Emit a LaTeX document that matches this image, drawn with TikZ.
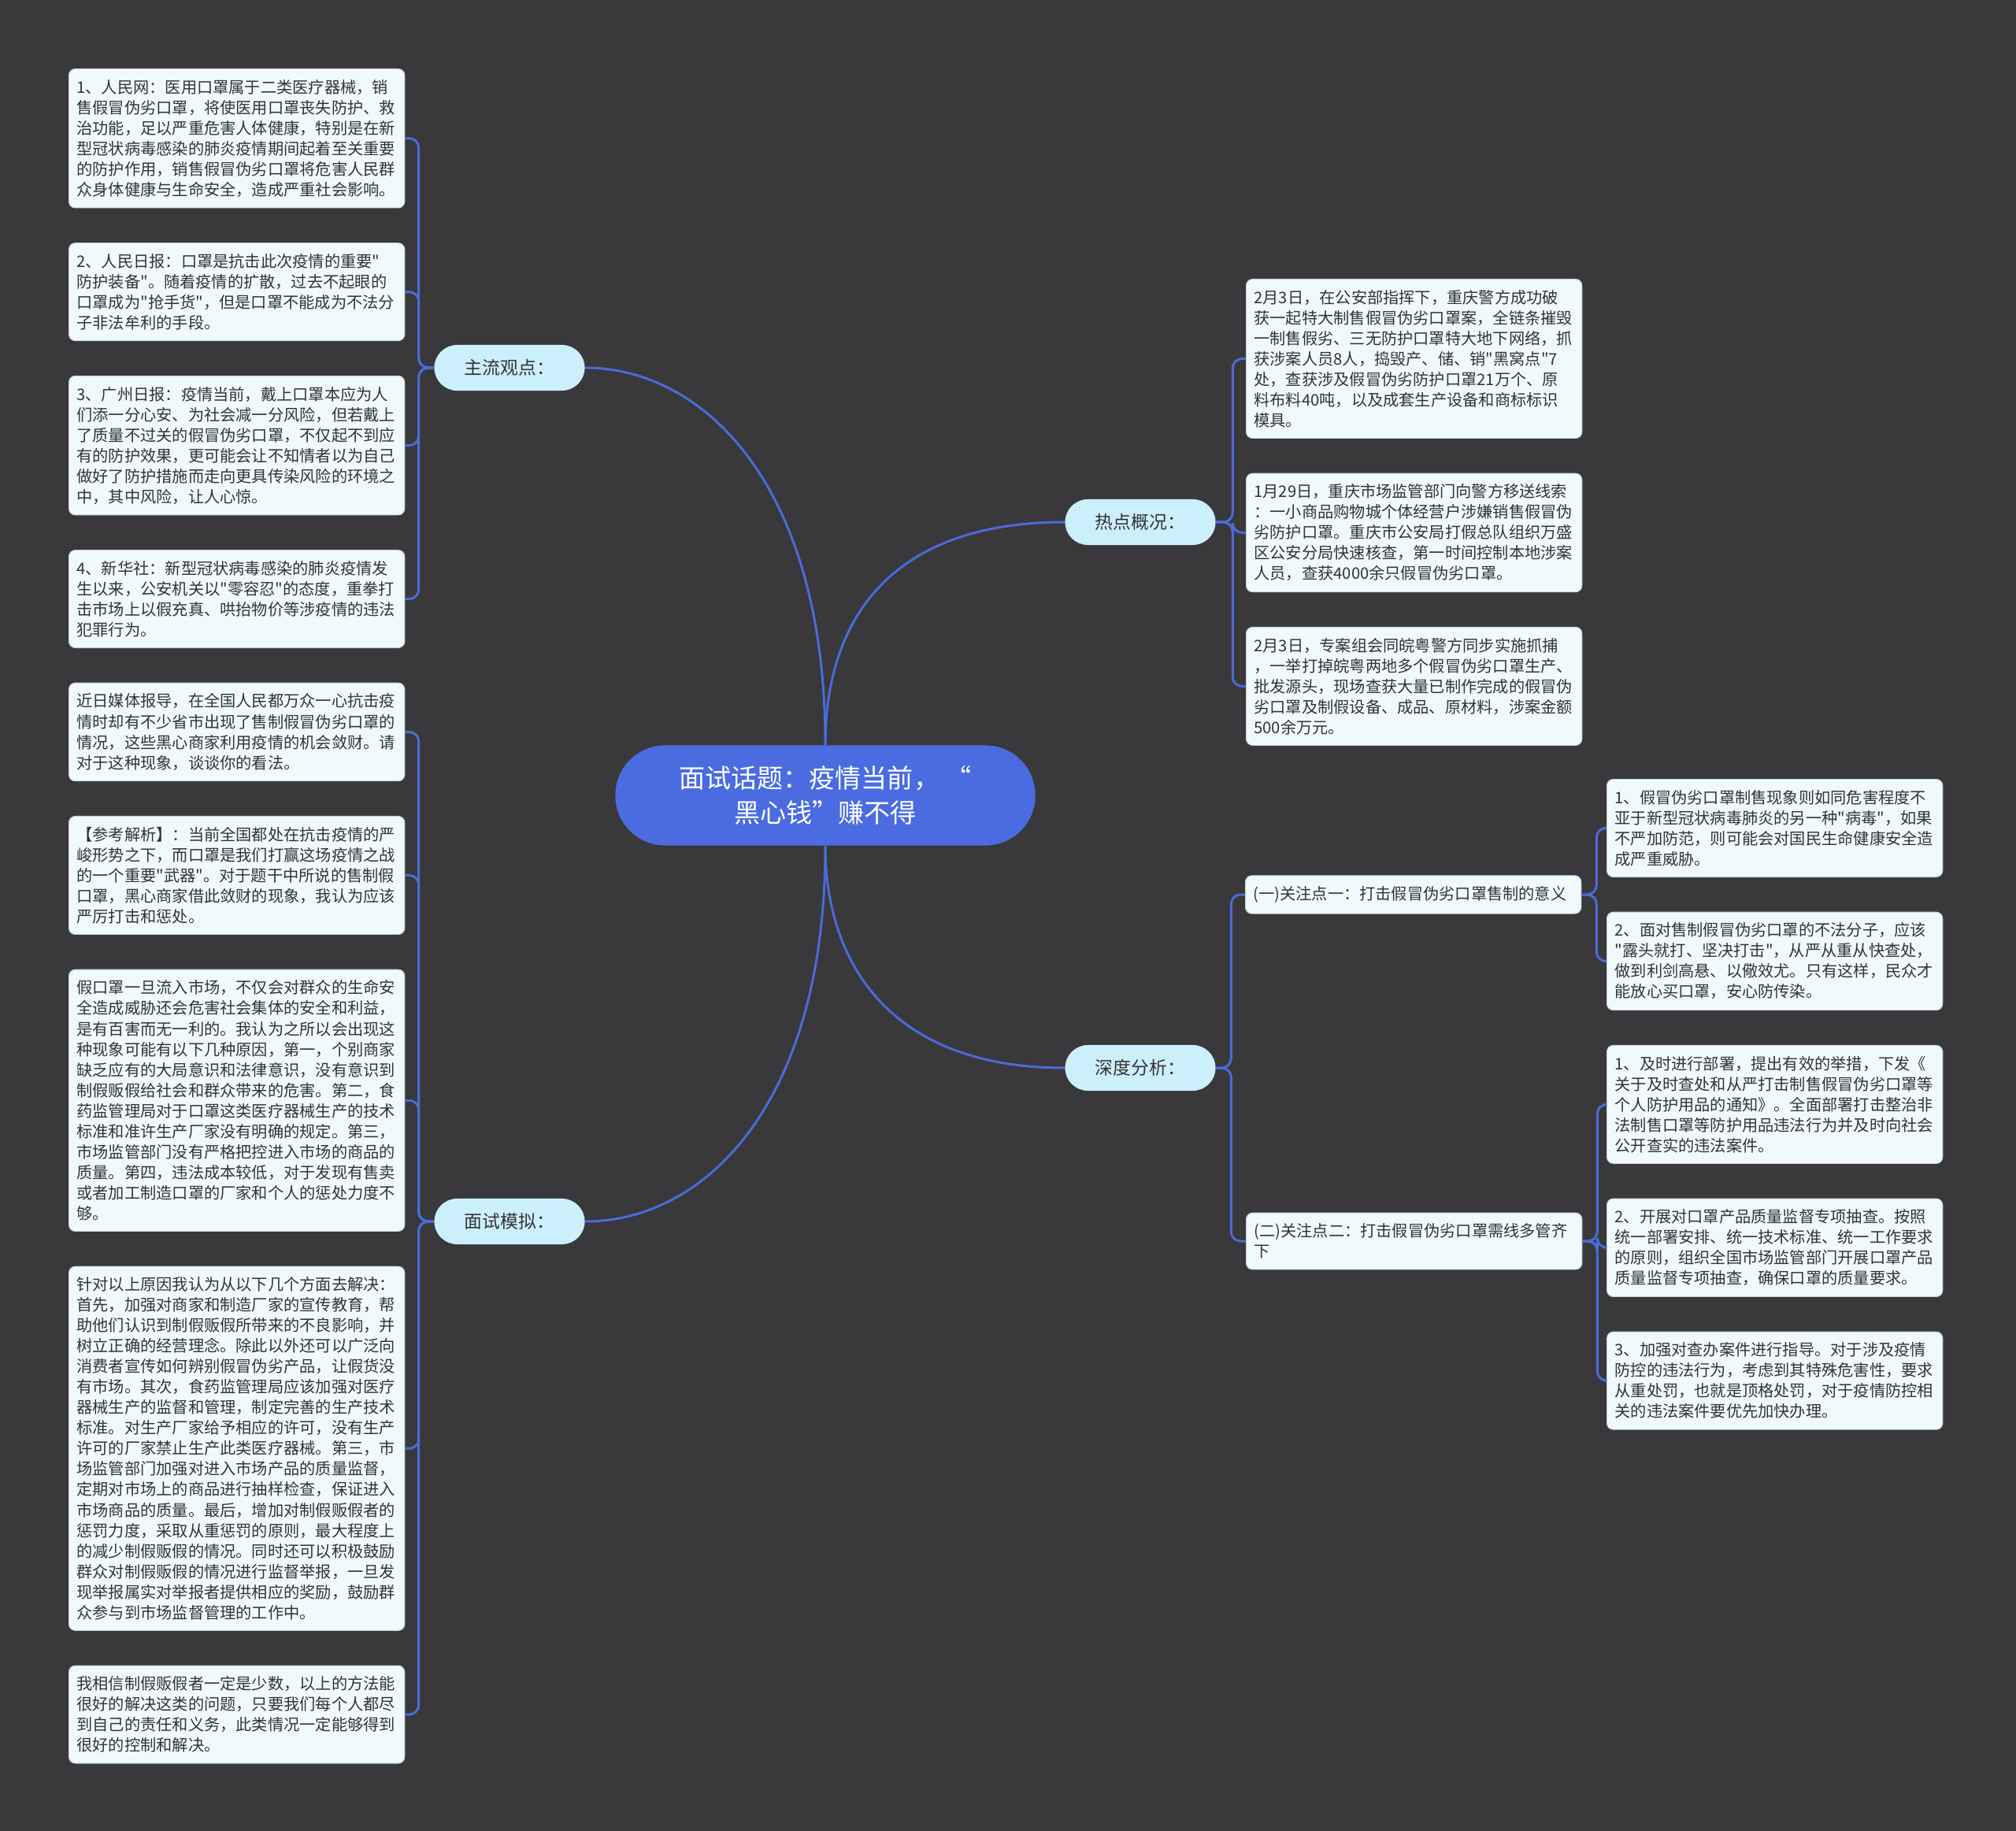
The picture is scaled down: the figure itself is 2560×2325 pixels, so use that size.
\documentclass[tikz,border=0pt]{standalone}
\usepackage{fontspec}
\setmainfont{Noto Sans CJK SC}[Ligatures=TeXOff]
\usetikzlibrary{positioning}

\definecolor{bgcol}{HTML}{39383A}
\definecolor{linkcol}{HTML}{4B6BD8}
\definecolor{topiccol}{HTML}{4A6CE0}
\definecolor{branchcol}{HTML}{CCEFFC}
\definecolor{leafcol}{HTML}{F0FAFC}
\definecolor{leafline}{HTML}{C9D6DA}
\definecolor{textcol}{HTML}{333333}

\tikzset{
  topic/.style={fill=topiccol, text=white, rounded corners=0.63cm,
    minimum width=5.33cm, minimum height=1.27cm, align=center,
    font=\fontsize{9.4pt}{12.5pt}\selectfont},
  branch/.style={fill=branchcol, text=textcol, rounded corners=0.29cm,
    minimum width=1.91cm, minimum height=0.58cm,
    font=\fontsize{6.5pt}{8pt}\selectfont},
  leaf/.style={fill=leafcol, draw=leafline, line width=0.3pt,
    rounded corners=0.08cm, text=textcol, text width=4.06cm,
    inner xsep=0.1cm, inner ysep=0.135cm, align=left,
    font=\fontsize{5.75pt}{7.4pt}\selectfont},
  link/.style={draw=linkcol, line width=0.03cm},
  elbow/.style={link, rounded corners=0.12cm},
}

\begin{document}
\begin{tikzpicture}[x=0.01cm, y=-0.01cm]
        \fill[bgcol] (0,0) rectangle (2560,2325);

        \node[topic]  (topic) at (1048,1010) {面试话题：疫情当前， “\\黑心钱”赚不得};
        \node[branch] (zl) at (647,467)   {主流观点：};
        \node[branch] (ms) at (647,1551)  {面试模拟：};
        \node[branch] (rd) at (1448,663)  {热点概况：};
        \node[branch] (sd) at (1448,1356) {深度分析：};

        % left column
        \node[leaf, anchor=north west] (l1) at (87,87) {1、人民网：医用口罩属于二类医疗器械，销\\售假冒伪劣口罩，将使医用口罩丧失防护、救\\治功能，足以严重危害人体健康，特别是在新\\型冠状病毒感染的肺炎疫情期间起着至关重要\\的防护作用，销售假冒伪劣口罩将危害人民群\\众身体健康与生命安全，造成严重社会影响。};
        \node[leaf, below=0.437cm of l1] (l2) {2、人民日报：口罩是抗击此次疫情的重要"\\防护装备"。随着疫情的扩散，过去不起眼的\\口罩成为"抢手货"，但是口罩不能成为不法分\\子非法牟利的手段。};
        \node[leaf, below=0.437cm of l2] (l3) {3、广州日报：疫情当前，戴上口罩本应为人\\们添一分心安、为社会减一分风险，但若戴上\\了质量不过关的假冒伪劣口罩，不仅起不到应\\有的防护效果，更可能会让不知情者以为自己\\做好了防护措施而走向更具传染风险的环境之\\中，其中风险，让人心惊。};
        \node[leaf, below=0.437cm of l3] (l4) {4、新华社：新型冠状病毒感染的肺炎疫情发\\生以来，公安机关以"零容忍"的态度，重拳打\\击市场上以假充真、哄抬物价等涉疫情的违法\\犯罪行为。};
        \node[leaf, below=0.437cm of l4] (l5) {近日媒体报导，在全国人民都万众一心抗击疫\\情时却有不少省市出现了售制假冒伪劣口罩的\\情况，这些黑心商家利用疫情的机会敛财。请\\对于这种现象，谈谈你的看法。};
        \node[leaf, below=0.437cm of l5] (l6) {【参考解析】：当前全国都处在抗击疫情的严\\峻形势之下，而口罩是我们打赢这场疫情之战\\的一个重要"武器"。对于题干中所说的售制假\\口罩，黑心商家借此敛财的现象，我认为应该\\严厉打击和惩处。};
        \node[leaf, below=0.437cm of l6] (l7) {假口罩一旦流入市场，不仅会对群众的生命安\\全造成威胁还会危害社会集体的安全和利益，\\是有百害而无一利的。我认为之所以会出现这\\种现象可能有以下几种原因，第一，个别商家\\缺乏应有的大局意识和法律意识，没有意识到\\制假贩假给社会和群众带来的危害。第二，食\\药监管理局对于口罩这类医疗器械生产的技术\\标准和准许生产厂家没有明确的规定。第三，\\市场监管部门没有严格把控进入市场的商品的\\质量。第四，违法成本较低，对于发现有售卖\\或者加工制造口罩的厂家和个人的惩处力度不\\够。};
        \node[leaf, below=0.437cm of l7] (l8) {针对以上原因我认为从以下几个方面去解决：\\首先，加强对商家和制造厂家的宣传教育，帮\\助他们认识到制假贩假所带来的不良影响，并\\树立正确的经营理念。除此以外还可以广泛向\\消费者宣传如何辨别假冒伪劣产品，让假货没\\有市场。其次，食药监管理局应该加强对医疗\\器械生产的监督和管理，制定完善的生产技术\\标准。对生产厂家给予相应的许可，没有生产\\许可的厂家禁止生产此类医疗器械。第三，市\\场监管部门加强对进入市场产品的质量监督，\\定期对市场上的商品进行抽样检查，保证进入\\市场商品的质量。最后，增加对制假贩假者的\\惩罚力度，采取从重惩罚的原则，最大程度上\\的减少制假贩假的情况。同时还可以积极鼓励\\群众对制假贩假的情况进行监督举报，一旦发\\现举报属实对举报者提供相应的奖励，鼓励群\\众参与到市场监督管理的工作中。};
        \node[leaf, below=0.437cm of l8] (l9) {我相信制假贩假者一定是少数，以上的方法能\\很好的解决这类的问题，只要我们每个人都尽\\到自己的责任和义务，此类情况一定能够得到\\很好的控制和解决。};

        % right column
        \node[leaf, anchor=north west] (h1) at (1582,354) {2月3日，在公安部指挥下，重庆警方成功破\\获一起特大制售假冒伪劣口罩案，全链条摧毁\\一制售假劣、三无防护口罩特大地下网络，抓\\获涉案人员8人，捣毁产、储、销"黑窝点"7\\处，查获涉及假冒伪劣防护口罩21万个、原\\料布料40吨，以及成套生产设备和商标标识\\模具。};
        \node[leaf, below=0.437cm of h1] (h2) {1月29日，重庆市场监管部门向警方移送线索\\：一小商品购物城个体经营户涉嫌销售假冒伪\\劣防护口罩。重庆市公安局打假总队组织万盛\\区公安分局快速核查，第一时间控制本地涉案\\人员，查获4000余只假冒伪劣口罩。};
        \node[leaf, below=0.437cm of h2] (h3) {2月3日，专案组会同皖粤警方同步实施抓捕\\，一举打掉皖粤两地多个假冒伪劣口罩生产、\\批发源头，现场查获大量已制作完成的假冒伪\\劣口罩及制假设备、成品、原材料，涉案金额\\500余万元。};

        \node[leaf, anchor=west] (d1) at (1581,1136) {(一)关注点一：打击假冒伪劣口罩售制的意义};
        \node[leaf, anchor=west] (d2) at (1582,1576) {(二)关注点二：打击假冒伪劣口罩需线多管齐\\下};

        \node[leaf, anchor=north west] (d1a) at (2040,989) {1、假冒伪劣口罩制售现象则如同危害程度不\\亚于新型冠状病毒肺炎的另一种"病毒"，如果\\不严加防范，则可能会对国民生命健康安全造\\成严重威胁。};
        \node[leaf, below=0.437cm of d1a] (d1b) {2、面对售制假冒伪劣口罩的不法分子，应该\\"露头就打、坚决打击"，从严从重从快查处，\\做到利剑高悬、以儆效尤。只有这样，民众才\\能放心买口罩，安心防传染。};
        \node[leaf, below=0.437cm of d1b] (d2a) {1、及时进行部署，提出有效的举措，下发《\\关于及时查处和从严打击制售假冒伪劣口罩等\\个人防护用品的通知》。全面部署打击整治非\\法制售口罩等防护用品违法行为并及时向社会\\公开查实的违法案件。};
        \node[leaf, below=0.437cm of d2a] (d2b) {2、开展对口罩产品质量监督专项抽查。按照\\统一部署安排、统一技术标准、统一工作要求\\的原则，组织全国市场监管部门开展口罩产品\\质量监督专项抽查，确保口罩的质量要求。};
        \node[leaf, below=0.437cm of d2b] (d2c) {3、加强对查办案件进行指导。对于涉及疫情\\防控的违法行为，考虑到其特殊危害性，要求\\从重处罚，也就是顶格处罚，对于疫情防控相\\关的违法案件要优先加快办理。};

        \draw[link] (topic.north) .. controls +(0,-330) and +(150,0) .. (zl.east);
        \draw[link] (topic.south) .. controls +(0,330) and +(150,0) .. (ms.east);
        \draw[link] (topic.north) .. controls +(0,-160) and +(-220,0) .. (rd.west);
        \draw[link] (topic.south) .. controls +(0,150) and +(-220,0) .. (sd.west);

        \foreach \c in {l1,l2,l3,l4}
          \draw[elbow] (zl.west) -- ++(-19,0) |- (\c.east);
        \foreach \c in {l5,l6,l7,l8,l9}
          \draw[elbow] (ms.west) -- ++(-19,0) |- (\c.east);
        \foreach \c in {h1,h2,h3}
          \draw[elbow] (rd.east) -- ++(21,0) |- (\c.west);
        \foreach \c in {d1,d2}
          \draw[elbow] (sd.east) -- ++(19,0) |- (\c.west);
        \foreach \c in {d1a,d1b}
          \draw[elbow] (d1.east) -- ++(19,0) |- (\c.west);
        \foreach \c in {d2a,d2b,d2c}
          \draw[elbow] (d2.east) -- ++(19,0) |- (\c.west);
\end{tikzpicture}
\end{document}
